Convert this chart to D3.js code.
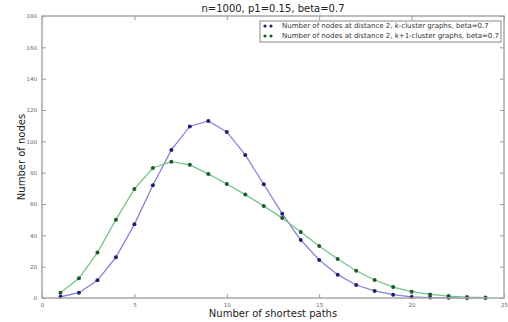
<!DOCTYPE html>
<html>
<head>
<meta charset="utf-8">
<script src="https://cdn.jsdelivr.net/npm/d3@7"></script>
<style>
  body { margin: 0; background: #fff; }
  text { font-family: "DejaVu Sans", sans-serif; }
</style>
</head>
<body>
<div class="chart-container"></div>
<script>
// shortest path counts on the x axis
const pathCounts = [1, 2, 3, 4, 5, 6, 7, 8, 9, 10, 11, 12, 13, 14, 15, 16, 17, 18, 19, 20, 21, 22, 23, 24];
// k-cluster graphs
const kCluster = [0.8, 3.4, 11.3, 26, 47, 72, 94.5, 109.5, 113, 106, 91.3, 72.6, 53.8, 37, 24.3, 14.9, 8.3, 4.5, 2.1, 0.7, 0.3, 0.15, 0.05, 0.02];
// k+1-cluster graphs
const k1Cluster = [3.4, 12.6, 29, 50, 69.6, 83, 87, 85, 79.2, 72.8, 66, 58.7, 51, 42.1, 33.2, 24.9, 17.4, 11.5, 7, 4, 2.3, 1.2, 0.6, 0.3];
const xTicks = [0, 5, 10, 15, 20, 25];
const yTicks = [0, 20, 40, 60, 80, 100, 120, 140, 160, 180];
const seriesNames = [
    "Number of nodes at distance 2, k-cluster graphs, beta=0.7",
    "Number of nodes at distance 2, k+1-cluster graphs, beta=0.7"
];

const W = 508, H = 322;
const margin = { top: 16, right: 4, bottom: 24, left: 42 },
      width = W - margin.left - margin.right,
      height = H - margin.top - margin.bottom;

const svg = d3.select(".chart-container").append("svg")
    .attr("width", W)
    .attr("height", H);

const g = svg.append("g")
    .attr("transform", "translate(" + margin.left + "," + margin.top + ")");

const x = d3.scaleLinear().domain([0, 25]).range([0, width]);
const y = d3.scaleLinear().domain([0, 180]).range([height, 0]);

const series = [
    { name: seriesNames[0], values: kCluster, line: "#8585d8", dot: "#1f1f72" },
    { name: seriesNames[1], values: k1Cluster, line: "#74c58a", dot: "#1d5a2c" }
];

const tickColor = "#999";
const labelColor = "#666";

// ticks point inward on all four sides
const axes = [
    { axis: d3.axisBottom(x).tickValues(xTicks).tickSize(-4).tickPadding(5), t: "translate(0," + height + ")", labels: true },
    { axis: d3.axisTop(x).tickValues(xTicks).tickSize(-4), t: "translate(0,0)", labels: false },
    { axis: d3.axisLeft(y).tickValues(yTicks).tickSize(-4).tickPadding(5), t: "translate(0,0)", labels: true },
    { axis: d3.axisRight(y).tickValues(yTicks).tickSize(-4), t: "translate(" + width + ",0)", labels: false }
];
axes.forEach(a => {
    const ax = g.append("g").attr("transform", a.t).call(a.axis);
    ax.select(".domain").remove();
    ax.selectAll(".tick line").attr("stroke", tickColor).attr("stroke-width", 1);
    if (a.labels) {
        ax.selectAll(".tick text").attr("fill", labelColor).attr("font-size", 5.5);
    } else {
        ax.selectAll(".tick text").remove();
    }
});

series.forEach(s => {
    const pts = pathCounts.map((c, i) => ({ c: c, v: s.values[i] }));
    const line = d3.line().x(d => x(d.c)).y(d => y(d.v));
    g.append("path")
        .datum(pts)
        .attr("d", line)
        .attr("fill", "none")
        .attr("stroke", s.line)
        .attr("stroke-width", 1.3);
    g.selectAll(null)
        .data(pts)
        .enter().append("circle")
        .attr("cx", d => x(d.c))
        .attr("cy", d => y(d.v))
        .attr("r", 2)
        .attr("fill", s.dot);
});

// frame
g.append("rect")
    .attr("width", width)
    .attr("height", height)
    .attr("fill", "none")
    .attr("stroke", "#a8a8a8")
    .attr("stroke-width", 1.5);

// legend
const lg = g.append("g").attr("transform", "translate(" + (260 - margin.left) + "," + (21 - margin.top) + ")");
lg.append("rect")
    .attr("width", 241)
    .attr("height", 21)
    .attr("fill", "#fff")
    .attr("stroke", "#888")
    .attr("stroke-width", 1);
series.forEach((s, i) => {
    const yy = 5 + i * 10;
    [5, 11].forEach(dx => {
        lg.append("circle").attr("cx", dx).attr("cy", yy).attr("r", 1.6).attr("fill", s.dot);
    });
    lg.append("text")
        .attr("x", 22)
        .attr("y", yy)
        .attr("dy", "0.35em")
        .attr("font-size", 7)
        .attr("fill", "#333")
        .text(s.name);
});

// title and axis labels
svg.append("text")
    .attr("x", margin.left + width / 2)
    .attr("y", 12)
    .attr("text-anchor", "middle")
    .attr("font-size", 10)
    .attr("fill", "#222")
    .text("n=1000, p1=0.15, beta=0.7");

svg.append("text")
    .attr("x", margin.left + width / 2)
    .attr("y", 317)
    .attr("text-anchor", "middle")
    .attr("font-size", 10)
    .attr("fill", "#222")
    .text("Number of shortest paths");

svg.append("text")
    .attr("transform", "translate(25," + (margin.top + height / 2) + ") rotate(-90)")
    .attr("text-anchor", "middle")
    .attr("font-size", 10)
    .attr("fill", "#222")
    .text("Number of nodes");
</script>
</body>
</html>
